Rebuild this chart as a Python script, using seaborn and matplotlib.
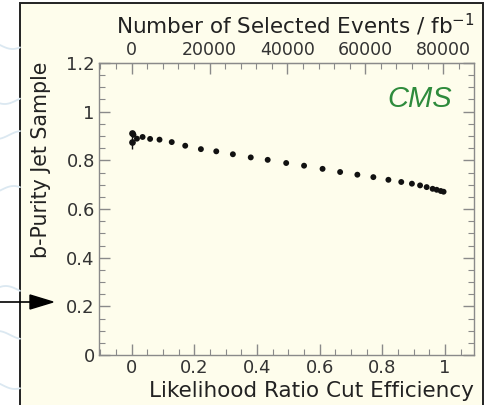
import matplotlib
matplotlib.use("Agg")
import matplotlib.pyplot as plt
import seaborn as sns
import pandas as pd
import numpy as np
from matplotlib.patches import Rectangle, Polygon
from matplotlib.ticker import MultipleLocator

# ---- data ----
cut_eff = [0.006, 0.017, 0.035, 0.059, 0.089, 0.128, 0.171, 0.221, 0.270, 0.323,
           0.380, 0.434, 0.493, 0.550, 0.609, 0.665, 0.720, 0.771, 0.819, 0.860,
           0.894, 0.920, 0.941, 0.960, 0.973, 0.986, 0.995]
purity = [0.905, 0.889, 0.896, 0.888, 0.885, 0.875, 0.860, 0.846, 0.837, 0.825,
          0.812, 0.802, 0.789, 0.778, 0.765, 0.752, 0.741, 0.731, 0.720, 0.711,
          0.704, 0.697, 0.690, 0.683, 0.679, 0.674, 0.671]
err_eff = [0.0, 0.0]
err_purity = [0.912, 0.876]
err_size = [0.010, 0.030]
y_ticks = [0, 0.2, 0.4, 0.6, 0.8, 1.0, 1.2]
y_ticklabels = ["0", "0.2", "0.4", "0.6", "0.8", "1", "1.2"]
x_ticks = [0, 0.2, 0.4, 0.6, 0.8, 1.0]
x_ticklabels = ["0", "0.2", "0.4", "0.6", "0.8", "1"]
top_ticks = [0, 20000, 40000, 60000, 80000]
events_per_eff = 80500

df = pd.DataFrame({"eff": cut_eff, "purity": purity})

sns.set_style("ticks")
plt.rcParams["font.family"] = ["DejaVu Sans"]

fig = plt.figure(figsize=(4.88, 4.05), dpi=100)
fig.patch.set_facecolor("white")

W, H = 488, 405
# background decoration axes (pixel coordinates)
bg = fig.add_axes([0, 0, 1, 1], zorder=-5)
bg.set_xlim(0, W)
bg.set_ylim(H, 0)
bg.axis("off")
# faint swirl lines of the slide background
for k, y0 in enumerate([45, 100, 135, 190, 290, 335, 385]):
    xs = np.linspace(0, 20, 20)
    bg.plot(xs, y0 + 4 * np.sin(xs / 8 + k), color="#dbe8f1", lw=1.3)
bg.add_patch(Rectangle((20, 3), 463, 410, facecolor="#FEFDEC",
                       edgecolor="#222222", linewidth=1.4))
# arrow at left
bg.plot([0, 32], [302, 302], color="black", lw=1.2)
bg.add_patch(Polygon([[30, 295], [53, 302], [30, 309]], closed=True,
                     facecolor="black", edgecolor="black"))

ax = fig.add_axes([99 / W, (H - 355) / H, (474 - 99) / W, (355 - 63) / H])
ax.set_facecolor("#FEFDEC")

sns.scatterplot(data=df, x="eff", y="purity", ax=ax, color="#111111", s=18,
                edgecolor="none", legend=False, zorder=3)
ax.errorbar(err_eff, err_purity, yerr=err_size, xerr=[0.006, 0.0], fmt="o",
            color="#111111", ms=3.8, elinewidth=1.0, capsize=0, zorder=3)

ax.set_xlim(-0.104, 1.092)
ax.set_ylim(0, 1.2)
ax.set_xticks(x_ticks)
ax.set_xticklabels(x_ticklabels)
ax.set_yticks(y_ticks)
ax.set_yticklabels(y_ticklabels)
ax.xaxis.set_minor_locator(MultipleLocator(0.05))
ax.yaxis.set_minor_locator(MultipleLocator(0.05))

spine_c = "#8a8a8a"
for s in ax.spines.values():
    s.set_color(spine_c)
    s.set_linewidth(1.0)
ax.tick_params(which="both", direction="in", color=spine_c, right=True,
               labelsize=13, labelcolor="#333333", pad=3)
ax.tick_params(which="major", length=8, width=1.0)
ax.tick_params(which="minor", length=4, width=0.8)
ax.tick_params(axis="x", which="both", top=False)

ax.set_xlabel("Likelihood Ratio Cut Efficiency", fontsize=15.5, color="#222222")
ax.xaxis.set_label_coords(1.0, -0.088)
ax.xaxis.label.set_ha("right")
ax.set_ylabel("b-Purity Jet Sample", fontsize=14.8, color="#222222")
ax.yaxis.set_label_coords(-0.127, 0.668)

sec = ax.secondary_xaxis("top", functions=(lambda x: x * events_per_eff,
                                           lambda n: n / events_per_eff))
sec.set_xticks(top_ticks)
sec.set_xticklabels([str(t) for t in top_ticks])
sec.xaxis.set_minor_locator(MultipleLocator(4000))
sec.spines["top"].set_color(spine_c)
sec.tick_params(which="both", direction="in", color=spine_c, labelsize=12.5,
                labelcolor="#333333", pad=3)
sec.tick_params(which="major", length=8, width=1.0)
sec.tick_params(which="minor", length=4, width=0.8)
ax.text(1.003, 1.0 + (63 - 25) / 292, "Number of Selected Events / fb$^{-1}$",
        transform=ax.transAxes, ha="right", va="center", fontsize=15.5,
        color="#222222")

ax.text(0.941, 0.877, "CMS", transform=ax.transAxes, ha="right", va="center",
        fontsize=21, style="italic", color="#2E8B3C",
        family=["Liberation Sans", "DejaVu Sans"])

fig.savefig("out.png", dpi=100, facecolor=fig.get_facecolor())
